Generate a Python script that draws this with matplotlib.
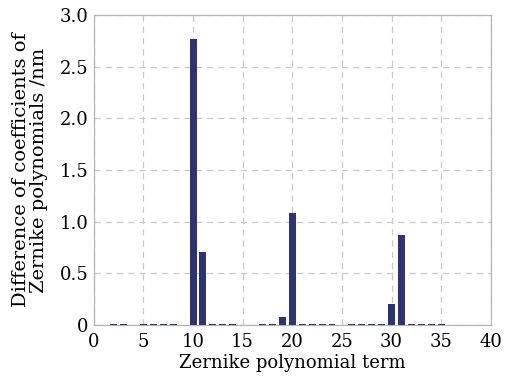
import numpy as np
import matplotlib
matplotlib.use("Agg")
import matplotlib.pyplot as plt

# Zernike terms and the coefficient differences
terms = [2, 3, 5, 6, 7, 8, 10, 11, 12, 13, 14, 17, 18, 19, 20,
         21, 22, 23, 24, 26, 27, 28, 29, 30, 31, 32, 33, 34, 35]
diffs = [0.012, 0.012, 0.012, 0.012, 0.012, 0.012, 2.77, 0.71, 0.012, 0.012, 0.012,
         0.012, 0.012, 0.08, 1.08, 0.012, 0.012, 0.012, 0.012, 0.012, 0.012, 0.012,
         0.012, 0.2, 0.87, 0.012, 0.012, 0.012, 0.012]

xticks = [0, 5, 10, 15, 20, 25, 30, 35, 40]
yticks = [0, 0.5, 1.0, 1.5, 2.0, 2.5, 3.0]
ytick_labels = ["0", "0.5", "1.0", "1.5", "2.0", "2.5", "3.0"]

plt.rcParams['font.family'] = ['DejaVu Serif']

fig = plt.figure(figsize=(5.07, 3.79), dpi=100)
ax = fig.add_axes([0.185, 0.1425, 0.783, 0.8175])

ax.bar(terms, diffs, width=0.7, color='#2c3379', zorder=3)

ax.set_xlim(0, 40)
ax.set_ylim(0, 3.0)
ax.set_xticks(xticks)
ax.set_yticks(yticks)
ax.set_yticklabels(ytick_labels)
ax.tick_params(length=0, labelsize=13)
ax.tick_params(axis='x', pad=6)
ax.tick_params(axis='y', pad=4)
ax.grid(True, linestyle=(0, (5, 4)), color='#c8c8c8', linewidth=0.9, zorder=0)

for s in ax.spines.values():
    s.set_color('#b4b4b4')
    s.set_linewidth(0.9)

ax.set_xlabel("Zernike polynomial term", fontsize=13, labelpad=2)
ax.set_ylabel("Difference of coefficients of\nZernike polynomials /nm", fontsize=14,
              labelpad=8, linespacing=1.05)

fig.savefig("out.png", dpi=100)
